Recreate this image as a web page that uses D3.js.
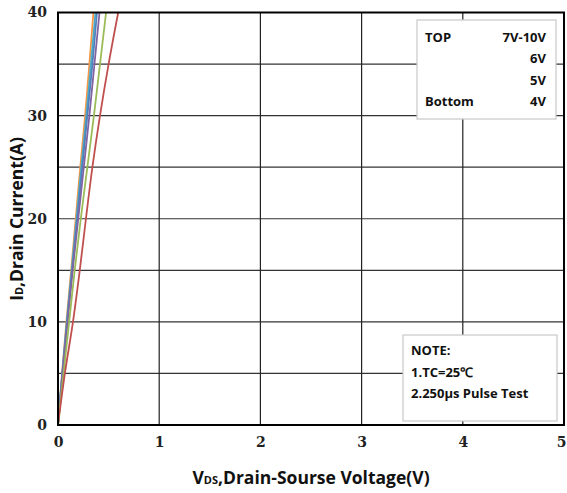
<!DOCTYPE html>
<html><head><meta charset="utf-8">
<script src="https://cdn.jsdelivr.net/npm/d3@7"></script>
<style>body{margin:0;background:#fff}svg{display:block}</style>
</head><body>
<svg id="c" width="567" height="493"></svg>
<script>
const currents = [0,5,10,15,20,25,30,35,40];
const seriesNames = ["10V","8V","7V","6V","5V","4V"];
const seriesColors = ["#f79646","#4bacc6","#4f81bd","#8064a2","#9bbb59","#c0504d"];
const vds10V = [0,0.040,0.083,0.130,0.175,0.220,0.268,0.310,0.350];
const vds8V  = [0,0.042,0.087,0.135,0.183,0.230,0.280,0.325,0.370];
const vds7V  = [0,0.043,0.090,0.140,0.190,0.240,0.290,0.340,0.385];
const vds6V  = [0,0.045,0.095,0.145,0.200,0.255,0.310,0.360,0.410];
const vds5V  = [0,0.055,0.110,0.165,0.225,0.290,0.355,0.415,0.475];
const vds4V  = [0,0.068,0.148,0.215,0.276,0.340,0.415,0.500,0.595];
const seriesVals = [vds10V,vds8V,vds7V,vds6V,vds5V,vds4V];
const xTicks = [0,1,2,3,4,5];
const yTicks = [0,10,20,30,40];
const yGrid = [5,10,15,20,25,30,35];
const legendRows = [["TOP","7V-10V"],["","6V"],["","5V"],["Bottom","4V"]];
const noteLines = ["NOTE:","1.TC=25℃","2.250μs Pulse Test"];

const svg = d3.select("#c");
const L=58,R=564,T=12.5,B=425;
const x = d3.scaleLinear().domain([0,5]).range([L,R]);
const y = d3.scaleLinear().domain([0,40]).range([B,T]);

// grid
svg.append("g").selectAll("line").data(yGrid).join("line")
  .attr("x1",L).attr("x2",R).attr("y1",d=>y(d)).attr("y2",d=>y(d))
  .attr("stroke","#333").attr("stroke-width",1.2);
svg.append("g").selectAll("line").data(xTicks.slice(1,5)).join("line")
  .attr("x1",d=>x(d)).attr("x2",d=>x(d)).attr("y1",T).attr("y2",B)
  .attr("stroke","#222").attr("stroke-width",1.2);

// axes tick labels via d3 axes
const xAxis = svg.append("g").attr("transform",`translate(0,${B})`)
  .call(d3.axisBottom(x).tickValues(xTicks).tickSize(0).tickPadding(12).tickFormat(d3.format("d")));
const yAxis = svg.append("g").attr("transform",`translate(${L},0)`)
  .call(d3.axisLeft(y).tickValues(yTicks).tickSize(0).tickPadding(11).tickFormat(d3.format("d")));
[xAxis,yAxis].forEach(a=>{
  a.select(".domain").remove();
  a.selectAll("text").attr("font-family","'DejaVu Serif','Liberation Serif',serif")
   .attr("font-weight","bold").attr("font-size",14).attr("fill","#222");
});
xAxis.selectAll(".tick text").filter(d=>d===5).attr("dx",-3);

// lines
const line = d3.line().x(d=>x(d[0])).y(d=>y(d[1])).curve(d3.curveMonotoneY);
svg.append("defs").append("clipPath").attr("id","clip").append("rect")
  .attr("x",L).attr("y",T).attr("width",R-L).attr("height",B-T);
svg.append("g").attr("clip-path","url(#clip)").selectAll("path").data(seriesVals).join("path")
  .attr("d",v=>line(v.map((vv,i)=>[vv,currents[i]])))
  .attr("fill","none").attr("stroke",(d,i)=>seriesColors[i]).attr("stroke-width",1.8);

// border
svg.append("rect").attr("x",L).attr("y",T).attr("width",R-L).attr("height",B-T)
  .attr("fill","none").attr("stroke","#000").attr("stroke-width",2);

const sans = "'Open Sans','Liberation Sans',sans-serif";
// legend box
svg.append("rect").attr("x",417).attr("y",20).attr("width",139).attr("height",99)
  .attr("fill","#fff").attr("stroke","#c8c8c8").attr("stroke-width",1.2);
const lg = svg.append("g").attr("font-family",sans).attr("font-weight","bold").attr("font-size",13).attr("fill","#111");
legendRows.forEach((r,i)=>{
  const yy = 42 + i*21.3;
  lg.append("text").attr("x",425).attr("y",yy).text(r[0]);
  lg.append("text").attr("x",546).attr("y",yy).attr("text-anchor","end").text(r[1]);
});

// note box
svg.append("rect").attr("x",403).attr("y",335).attr("width",154).attr("height",86)
  .attr("fill","#fff").attr("stroke","#c8c8c8").attr("stroke-width",1.2);
const ng = svg.append("g").attr("font-family",sans).attr("font-weight","bold").attr("font-size",13).attr("fill","#111");
noteLines.forEach((t,i)=>{
  ng.append("text").attr("x",411).attr("y",355+i*21.5).text(t);
});

// axis titles
const xt = svg.append("text").attr("x",311).attr("y",484).attr("text-anchor","middle")
  .attr("font-family",sans).attr("font-weight","bold").attr("font-size",17.5).attr("fill","#111");
xt.append("tspan").text("V");
xt.append("tspan").attr("font-size",11).text("DS");
xt.append("tspan").text(",Drain-Sourse Voltage(V)");

const yt = svg.append("text").attr("transform","translate(23,219) rotate(-90)").attr("text-anchor","middle")
  .attr("font-family",sans).attr("font-weight","bold").attr("font-size",17.5).attr("fill","#111");
yt.append("tspan").text("I");
yt.append("tspan").attr("font-size",11).text("D");
yt.append("tspan").text(",Drain Current(A)");
</script>
</body></html>
